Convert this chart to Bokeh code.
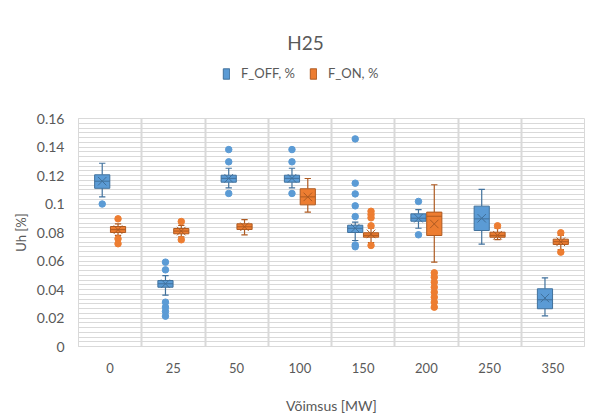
from bokeh.plotting import figure
from bokeh.layouts import column
from bokeh.models import (Range1d, FixedTicker, Legend, LegendItem, CustomJSTickFormatter,
                          ColumnDataSource, Label)
from bokeh.embed import file_html
from bokeh.resources import INLINE

# ---- data ----
categories = ["0", "25", "50", "100", "150", "200", "250", "350"]

off_q1 = [0.111, 0.0416, 0.1153, 0.1153, 0.0800, 0.0879, 0.0814, 0.0265]
off_med = [0.116, 0.0440, 0.1180, 0.1180, 0.0830, 0.0900, 0.0896, 0.0328]
off_q3 = [0.1205, 0.0463, 0.1202, 0.1202, 0.0851, 0.0931, 0.0985, 0.0405]
off_lo = [0.105, 0.0360, 0.1113, 0.1113, 0.0744, 0.0830, 0.0718, 0.0215]
off_hi = [0.1286, 0.0498, 0.1251, 0.1251, 0.0873, 0.0960, 0.1102, 0.0482]
off_mean = [0.116, 0.0440, 0.1180, 0.1180, 0.0830, 0.0900, 0.0900, 0.0340]
off_outliers = [
    [0.100],
    [0.0592, 0.0538, 0.0311, 0.0276, 0.0246, 0.0213],
    [0.1382, 0.1296, 0.1074],
    [0.1382, 0.1296, 0.1074],
    [0.1457, 0.1146, 0.1071, 0.0987, 0.0912, 0.0713, 0.0700],
    [0.1018, 0.0784],
    [],
    [],
]

on_q1 = [0.0800, 0.0791, 0.0821, 0.0994, 0.0767, 0.0779, 0.0767, 0.0716]
on_med = [0.0820, 0.0810, 0.0840, 0.1050, 0.0780, 0.0914, 0.0780, 0.0735]
on_q3 = [0.0842, 0.0828, 0.0861, 0.1107, 0.0798, 0.0943, 0.0802, 0.0753]
on_lo = [0.0780, 0.0770, 0.0784, 0.0943, 0.0730, 0.0592, 0.0750, 0.0680]
on_hi = [0.0860, 0.0850, 0.0891, 0.1179, 0.0830, 0.1135, 0.0830, 0.0780]
on_mean = [0.0820, 0.0810, 0.0840, 0.1050, 0.0790, 0.0860, 0.0780, 0.0735]
on_outliers = [
    [0.0896, 0.0756, 0.0721],
    [0.0877, 0.0749],
    [],
    [],
    [0.0949, 0.0926, 0.0903, 0.0847, 0.0709],
    [0.0517, 0.0486, 0.0451, 0.0416, 0.0381, 0.0346, 0.0311, 0.0276],
    [0.0847],
    [0.0798, 0.0662],
]

y_ticks = [0, 0.02, 0.04, 0.06, 0.08, 0.1, 0.12, 0.14, 0.16]
series_names = ["F_OFF, %", "F_ON, %"]
title_text = "H25"

FONT = "Lato"
GRAY = "#595959"
GRID = "#d9d9d9"
FILLS = ["#5B9BD5", "#ED7D31"]
LINES = ["#41719C", "#AE5A21"]

W = 588
HEAD_H = 100
FL, FR = 78, 4   # frame borders (left, right)

# ---- header: title + legend (frame aligned with the main chart's frame) ----
head = figure(width=W, height=HEAD_H, output_backend="svg", toolbar_location=None,
              x_range=Range1d(FL, W - FR), y_range=Range1d(HEAD_H, 0),
              min_border_left=FL, min_border_right=FR, min_border_top=0, min_border_bottom=0,
              x_axis_type=None, y_axis_type=None)
head.outline_line_color = None
head.grid.visible = False
head.add_layout(Label(x=305, y=42, text=title_text, text_align="center",
                      text_baseline="middle", text_font=FONT, text_font_size="19px",
                      text_color=GRAY))
dummies = []
for f, l in zip(FILLS, LINES):
    # off-screen swatch renderers, only used for the legend glyphs
    dummies.append(head.quad(left=[-60], right=[-50], bottom=[0], top=[10],
                             fill_color=f, line_color=l))
legend = Legend(items=[LegendItem(label=n, renderers=[r]) for n, r in zip(series_names, dummies)],
                orientation="horizontal", location=(222 - FL, 19),
                label_text_font=FONT, label_text_font_size="13px", label_text_color=GRAY,
                glyph_width=8, glyph_height=13, spacing=14, label_standoff=11,
                border_line_color=None, background_fill_alpha=0, margin=0, padding=2)
head.add_layout(legend, "center")

# ---- main chart ----
MAIN_H = 317
p = figure(width=W, height=MAIN_H, output_backend="svg", toolbar_location=None,
           x_range=Range1d(0, len(categories)), y_range=Range1d(0, 0.16),
           min_border_left=FL, min_border_right=FR, min_border_top=18, min_border_bottom=71)
p.outline_line_color = GRID

p.xaxis.ticker = FixedTicker(ticks=[i + 0.5 for i in range(len(categories))])
p.xaxis.major_label_overrides = {i + 0.5: c for i, c in enumerate(categories)}
p.xaxis.major_tick_line_color = None
p.xaxis.minor_tick_line_color = None
p.xaxis.axis_line_color = GRID
p.xaxis.major_label_standoff = 10
p.xaxis.major_label_text_font = FONT
p.xaxis.major_label_text_font_size = "13px"
p.xaxis.major_label_text_color = GRAY
p.xaxis.axis_label = "Võimsus [MW]"
p.xaxis.axis_label_text_font = FONT
p.xaxis.axis_label_text_font_size = "14px"
p.xaxis.axis_label_text_font_style = "normal"
p.xaxis.axis_label_text_color = GRAY
p.xaxis.axis_label_standoff = 21

minor = [k * 0.16 / 48 for k in range(49)]
p.yaxis.ticker = FixedTicker(ticks=y_ticks, minor_ticks=minor)
p.yaxis.formatter = CustomJSTickFormatter(code="return String(Math.round(tick*100)/100);")
p.yaxis.major_tick_line_color = None
p.yaxis.minor_tick_line_color = None
p.yaxis.axis_line_color = GRID
p.yaxis.major_label_standoff = 8
p.yaxis.major_label_text_font = FONT
p.yaxis.major_label_text_font_size = "14px"
p.yaxis.major_label_text_color = GRAY
p.yaxis.axis_label = "Uh [%]"
p.yaxis.axis_label_text_font = FONT
p.yaxis.axis_label_text_font_size = "13px"
p.yaxis.axis_label_text_font_style = "normal"
p.yaxis.axis_label_text_color = GRAY
p.yaxis.axis_label_standoff = 5

p.ygrid.ticker = FixedTicker(ticks=y_ticks, minor_ticks=minor)
p.ygrid.grid_line_color = GRID
p.ygrid.minor_grid_line_color = GRID
p.xgrid.ticker = FixedTicker(ticks=list(range(len(categories) + 1)))
p.xgrid.grid_line_color = GRID
p.xgrid.grid_line_width = 2

BW = 0.24
CAP = 0.1


def draw(offset, q1, med, q3, lo, hi, mean, outl, fill, line):
    xs = [i + 0.5 + offset for i in range(len(categories))]
    src = ColumnDataSource(dict(x=xs, q1=q1, med=med, q3=q3, lo=lo, hi=hi, mean=mean,
                                l=[x - BW / 2 for x in xs], r=[x + BW / 2 for x in xs],
                                cl=[x - CAP / 2 for x in xs], cr=[x + CAP / 2 for x in xs]))
    p.segment(x0="x", y0="lo", x1="x", y1="q1", source=src, line_color=line, line_width=1.2)
    p.segment(x0="x", y0="q3", x1="x", y1="hi", source=src, line_color=line, line_width=1.2)
    p.segment(x0="cl", y0="lo", x1="cr", y1="lo", source=src, line_color=line, line_width=1.2)
    p.segment(x0="cl", y0="hi", x1="cr", y1="hi", source=src, line_color=line, line_width=1.2)
    p.quad(left="l", right="r", bottom="q1", top="q3", source=src,
           fill_color=fill, line_color=line, line_width=1)
    p.segment(x0="l", y0="med", x1="r", y1="med", source=src, line_color=line, line_width=1)
    p.scatter(x="x", y="mean", source=src, marker="x", size=12, line_color=line, line_width=1)
    ox, oy = [], []
    for i, vals in enumerate(outl):
        for v in vals:
            ox.append(xs[i])
            oy.append(v)
    p.scatter(ox, oy, marker="circle", size=6.5, fill_color=fill, line_color=fill)


draw(-0.125, off_q1, off_med, off_q3, off_lo, off_hi, off_mean, off_outliers, FILLS[0], LINES[0])
draw(0.125, on_q1, on_med, on_q3, on_lo, on_hi, on_mean, on_outliers, FILLS[1], LINES[1])

layout = column(head, p, spacing=0)
open("out.html", "w").write(file_html(layout, INLINE))
